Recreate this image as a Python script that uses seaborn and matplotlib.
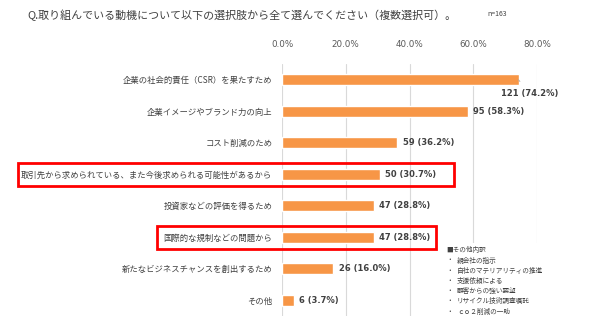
import matplotlib
matplotlib.use("Agg")
import matplotlib.pyplot as plt
import matplotlib.transforms as mtransforms
from matplotlib.patches import Rectangle
import seaborn as sns
import pandas as pd

categories = [
    "企業の社会的責任（CSR）を果たすため",
    "企業イメージやブランド力の向上",
    "コスト削減のため",
    "取引先から求められている、また今後求められる可能性があるから",
    "投資家などの評価を得るため",
    "国際的な規制などの問題から",
    "新たなビジネスチャンスを創出するため",
    "その他",
]
counts = [121, 95, 59, 50, 47, 47, 26, 6]
percents = [74.2, 58.3, 36.2, 30.7, 28.8, 28.8, 16.0, 3.7]
x_ticks = [0, 20, 40, 60, 80]
highlighted = [3, 5]
other_breakdown = [
    "親会社の指示",
    "自社のマテリアリティの推進",
    "支援依頼による",
    "顧客からの強い要望",
    "リサイクル技術調査嘱託",
    "ｃｏ２削減の一助",
]
title = "Q.取り組んでいる動機について以下の選択肢から全て選んでください（複数選択可）。"
n_text = "n=163"

sns.set_theme(style="white")
JP = ["Noto Sans CJK JP", "DejaVu Sans"]
plt.rcParams["font.family"] = JP

df = pd.DataFrame({"cat": categories, "pct": percents, "n": counts})

fig = plt.figure(figsize=(5.9, 3.23), dpi=100)
ax = fig.add_axes([282 / 590, 1 - 316 / 323, (537 - 282) / 590, (316 - 64) / 323])

sns.barplot(data=df, x="pct", y="cat", orient="h", color="#F79646",
            width=0.35, saturation=1, ax=ax)

ax.set_xlim(0, 80)
ax.set_ylim(len(categories) - 0.5, -0.5)
ax.set_xticks(x_ticks)
ax.set_xticklabels([f"{v:.1f}%" for v in x_ticks], family="DejaVu Sans",
                   fontsize=6.3, color="#595959")
ax.xaxis.tick_top()
ax.tick_params(axis="x", length=0, pad=11)
ax.tick_params(axis="y", length=0, pad=7, labelsize=6.0, labelcolor="#404040")
ax.set_xlabel("")
ax.set_ylabel("")
ax.grid(axis="x", color="#D9D9D9", linewidth=0.8)
ax.set_axisbelow(True)
for s in ax.spines.values():
    s.set_visible(False)

lbl_kw = dict(fontsize=6.0, color="#404040", family="DejaVu Sans", weight="bold")
for i, (c, p) in enumerate(zip(counts, percents)):
    label = f"{c} ({p:.1f}%)"
    if i == 0:
        ax.annotate(label, xy=(p, i), xytext=(8, -10), textcoords="offset points",
                    ha="center", va="center",
                    arrowprops=dict(arrowstyle="-", color="#A6A6A6", lw=0.6,
                                    shrinkA=4, shrinkB=0), **lbl_kw)
    else:
        ax.annotate(label, xy=(p, i), xytext=(4, 0), textcoords="offset points",
                    ha="left", va="center", **lbl_kw)

# red highlight boxes: x in figure fraction, y in data rows
blend = mtransforms.blended_transform_factory(fig.transFigure, ax.transData)
box_x = {3: (18 / 590, 454 / 590), 5: (157 / 590, 436 / 590)}
for idx in highlighted:
    x0, x1 = box_x[idx]
    r = Rectangle((x0, idx + 0.36), x1 - x0, -0.72, transform=blend,
                  fill=False, edgecolor="#FF0000", linewidth=2, clip_on=False)
    fig.add_artist(r)

# white panel for the breakdown notes
fig.add_artist(Rectangle((441 / 590, 0), 130 / 590, 1 - 243 / 323,
                         transform=fig.transFigure, facecolor="white",
                         edgecolor="none", zorder=5))
fig.text(446 / 590, 1 - 250 / 323, "■その他内訳", fontsize=4.8, color="#404040",
         va="center", ha="left", zorder=6)
for k, item in enumerate(other_breakdown):
    y = 1 - (260.5 + k * 10.2) / 323
    fig.text(446 / 590, y, "・", fontsize=4.8, color="#404040", va="center",
             ha="left", zorder=6)
    fig.text(457 / 590, y, item, fontsize=4.8, color="#404040", va="center",
             ha="left", zorder=6)

fig.text(27 / 590, 1 - 15 / 323, title, fontsize=7.9, color="#404040",
         va="center", ha="left")
fig.text(487 / 590, 1 - 14 / 323, n_text, fontsize=5.0, color="#404040",
         va="center", ha="left")

fig.savefig("out.png", dpi=100)
